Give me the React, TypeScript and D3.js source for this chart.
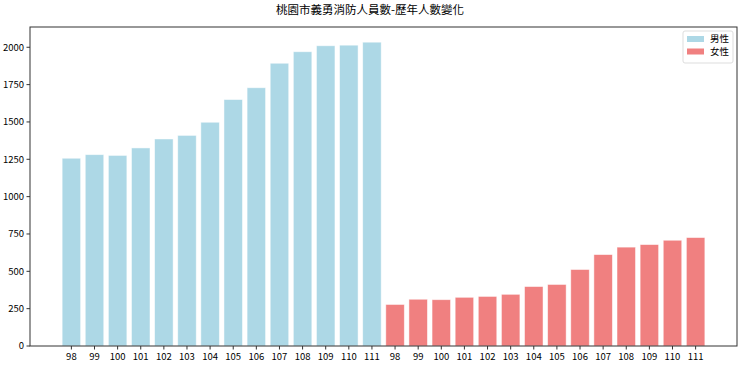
import React from "react";
import * as d3 from "d3";

const years = ["98","99","100","101","102","103","104","105","106","107","108","109","110","111"];
const male = [1257, 1281, 1276, 1326, 1386, 1410, 1498, 1650, 1729, 1893, 1970, 2010, 2014, 2034];
const female = [278, 313, 310, 326, 332, 346, 398, 412, 512, 612, 662, 679, 708, 726];
const yTicks = [0, 250, 500, 750, 1000, 1250, 1500, 1750, 2000];
const title = "桃園市義勇消防人員數-歷年人數變化";
const seriesNames = ["男性", "女性"];
const colors = ["#ADD8E6", "#F08080"];

const W = 740, H = 365;
const L = 30, R = 737, T = 27, B = 346;
const font = "'Noto Sans CJK TC', 'Noto Sans', sans-serif";

export default function App() {
  const bars = [
    ...male.map((v, i) => ({ v, label: years[i], s: 0 })),
    ...female.map((v, i) => ({ v, label: years[i], s: 1 })),
  ];
  const n = bars.length;
  const x = d3.scaleLinear().domain([-0.4 - 0.05 * (n - 0.2), n - 1 + 0.4 + 0.05 * (n - 0.2)]).range([L, R]);
  const maxV = d3.max(bars, d => d.v)!;
  const y = d3.scaleLinear().domain([0, maxV * 1.05]).range([B, T]);
  const bw = x(0.8) - x(0);
  return (
    <svg width={W} height={H} style={{ position: "absolute", left: 0, top: 0 }} fontFamily={font}>
      <rect width={W} height={H} fill="#fff" />
      <text x={W / 2} y={14} textAnchor="middle" fontSize={11.5} fill="#000">{title}</text>
      {bars.map((d, i) => (
        <rect key={i} x={x(i) - bw / 2} y={y(d.v)} width={bw} height={B - y(d.v)}
          fill={colors[d.s]} stroke="#fff" strokeOpacity={0.6} strokeWidth={0.8} />
      ))}
      <rect x={L} y={T} width={R - L} height={B - T} fill="none" stroke="#333" strokeWidth={1} />
      {yTicks.map(t => (
        <g key={t}>
          <line x1={L - 3.5} x2={L} y1={y(t)} y2={y(t)} stroke="#333" />
          <text x={L - 6} y={y(t)} dy="0.35em" textAnchor="end" fontSize={9.5} fill="#000">{t}</text>
        </g>
      ))}
      {bars.map((d, i) => (
        <g key={"x" + i}>
          <line x1={x(i)} x2={x(i)} y1={B} y2={B + 3.5} stroke="#333" />
          <text x={x(i)} y={B + 14} textAnchor="middle" fontSize={9.5} fill="#000">{d.label}</text>
        </g>
      ))}
      <g>
        <rect x={683} y={31} width={50} height={32} fill="#fff" stroke="#ddd" rx={2} />
        {seriesNames.map((s, i) => (
          <g key={s}>
            <rect x={687} y={36 + i * 12.5} width={17} height={6} fill={colors[i]} />
            <text x={710} y={39 + i * 12.5} dy="0.35em" fontSize={9.5} fill="#000">{s}</text>
          </g>
        ))}
      </g>
    </svg>
  );
}
